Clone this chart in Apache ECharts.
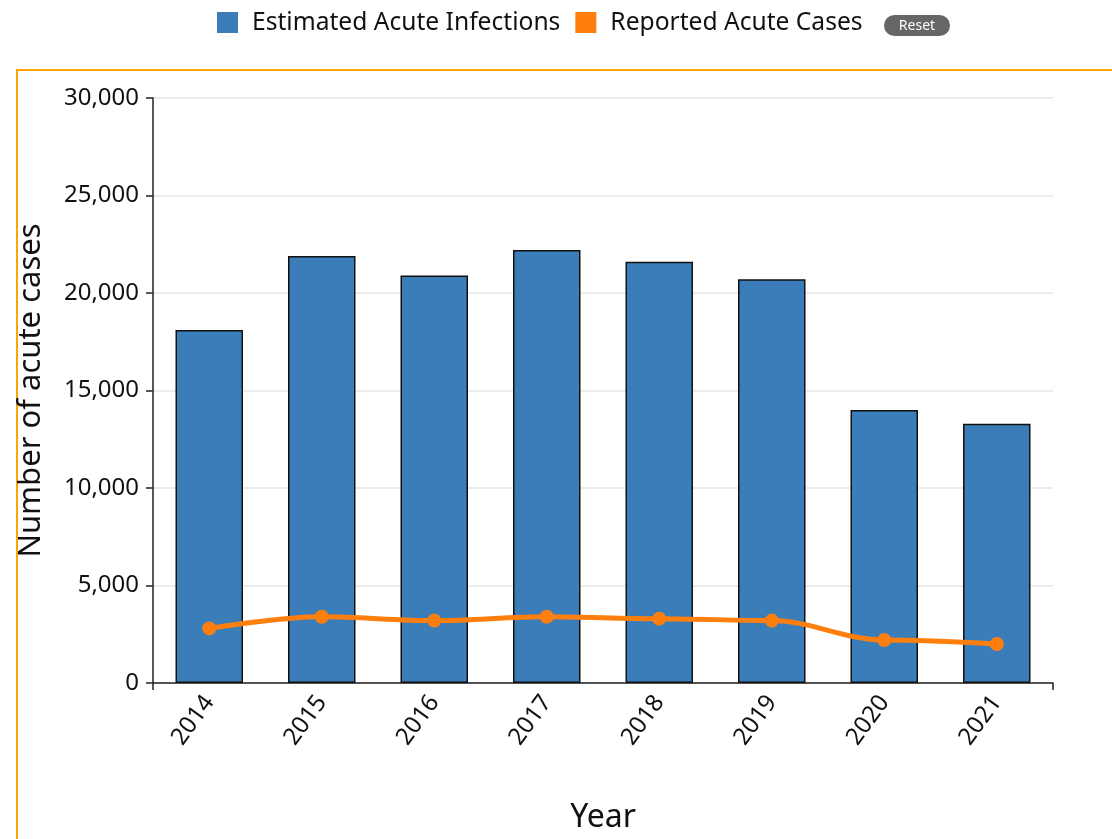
<!DOCTYPE html>
<html>
<head>
<meta charset="utf-8">
<script src="https://cdn.jsdelivr.net/npm/echarts@6/dist/echarts.min.js"></script>
<style>
  html, body { margin: 0; padding: 0; background: #fff; overflow: hidden; }
  #frame { position: absolute; left: 16px; top: 69px; width: 1100px; height: 800px;
           border-left: 2px solid #ffa500; border-top: 2px solid #ffa500; }
  #chart { position: absolute; left: 0; top: 0; width: 1112px; height: 839px; }
</style>
</head>
<body>
<div id="frame"></div>
<div id="chart"></div>
<script>
const years = ['2014', '2015', '2016', '2017', '2018', '2019', '2020', '2021'];
const estimatedInfections = [18100, 21900, 20900, 22200, 21600, 20700, 14000, 13300];
const reportedCases = [2800, 3400, 3200, 3400, 3300, 3200, 2200, 2000];

const FONT = 'Noto Sans';
const chart = echarts.init(document.getElementById('chart'));

chart.setOption({
  animation: false,
  textStyle: { fontFamily: FONT },
  legend: {
    top: 5,
    left: 212,
    itemWidth: 21,
    itemHeight: 21,
    itemGap: 15,
    textStyle: { fontSize: 24.6, color: '#111', fontFamily: FONT, padding: [0, 0, 0, 9] },
    data: [
      { name: 'Estimated Acute Infections', icon: 'rect', itemStyle: { color: '#3a7db8', borderWidth: 0 } },
      { name: 'Reported Acute Cases', icon: 'rect', itemStyle: { color: '#ff7f0e', borderWidth: 0 } }
    ]
  },
  graphic: [{
    type: 'group',
    left: 884,
    top: 15,
    children: [
      { type: 'rect', shape: { x: 0, y: 0, width: 66, height: 21, r: 10.5 }, style: { fill: '#666' } },
      { type: 'text', x: 33, y: 11, style: { text: 'Reset', fill: '#fff', fontSize: 14, fontFamily: FONT, align: 'center', verticalAlign: 'middle' } }
    ]
  }],
  grid: { left: 153, top: 98, width: 900, height: 585, containLabel: false, outerBoundsMode: 'none' },
  xAxis: [{
    type: 'category',
    data: years,
    name: 'Year',
    nameLocation: 'middle',
    nameGap: 119,
    nameTextStyle: { fontSize: 32, color: '#111', fontFamily: FONT },
    axisLine: { lineStyle: { color: '#222', width: 1.5 } },
    axisTick: { alignWithLabel: true, length: 7, lineStyle: { color: '#222', width: 1.5 } },
    axisLabel: { rotate: 54, fontSize: 24, color: '#111', margin: 15, fontFamily: FONT },
    splitLine: { show: false }
  }, {
    // outer end ticks of the domain line
    type: 'value',
    position: 'bottom',
    min: 0, max: 8, interval: 8,
    axisLine: { show: false },
    axisTick: { show: true, length: 7, lineStyle: { color: '#222', width: 1.5 } },
    axisLabel: { show: false },
    splitLine: { show: false }
  }],
  yAxis: {
    type: 'value',
    min: 0, max: 30000, interval: 5000,
    name: 'Number of acute cases',
    nameLocation: 'middle',
    nameGap: 106,
    nameTextStyle: { fontSize: 31, color: '#111', fontFamily: FONT },
    axisLine: { show: true, lineStyle: { color: '#222', width: 1.5 } },
    axisTick: { show: true, length: 7, lineStyle: { color: '#222', width: 1.5 } },
    axisLabel: {
      fontSize: 24, color: '#111', margin: 14, fontFamily: FONT,
      formatter: v => v.toLocaleString('en-US')
    },
    splitLine: { show: true, lineStyle: { color: '#e6e6e6', width: 1.5 } }
  },
  series: [{
    name: 'Estimated Acute Infections',
    type: 'bar',
    data: estimatedInfections,
    barCategoryGap: '40%',
    itemStyle: { color: '#3a7db8', borderColor: '#111', borderWidth: 1.5 }
  }, {
    name: 'Reported Acute Cases',
    type: 'line',
    data: reportedCases,
    smooth: 0.35,
    smoothMonotone: 'x',
    symbol: 'circle',
    symbolSize: 14,
    lineStyle: { color: '#ff7f0e', width: 5 },
    itemStyle: { color: '#ff7f0e' },
    z: 5
  }]
});
</script>
</body>
</html>
